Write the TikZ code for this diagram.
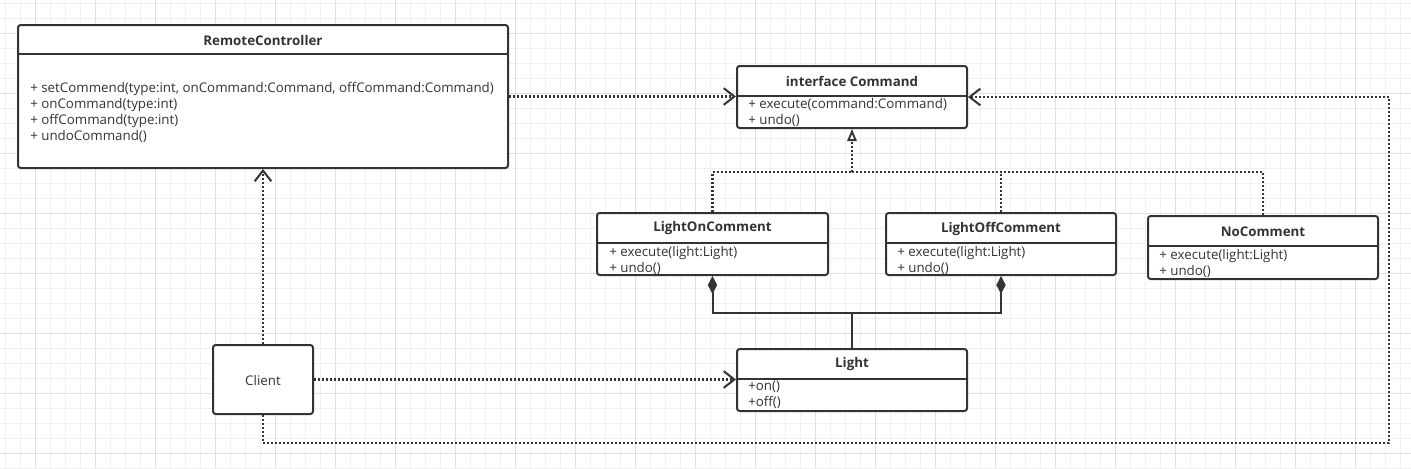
\documentclass[tikz,border=0pt]{standalone}
\usepackage{fontspec}
\setmainfont{Open Sans}
\usetikzlibrary{arrows.meta}
\definecolor{ink}{HTML}{333333}
\definecolor{gminor}{HTML}{F0F0F0}
\definecolor{gmajor}{HTML}{E0E0E0}
\begin{document}
\begin{tikzpicture}[x=0.75pt,y=-0.75pt,
  box/.style={draw=ink, line width=1.5pt, rounded corners=2pt, fill=white, inner sep=0pt},
  ttl/.style={font=\bfseries\fontsize{10pt}{12pt}\selectfont, text=ink, inner sep=0pt},
  mth/.style={font=\fontsize{10pt}{12pt}\selectfont, text=ink, inner sep=0pt, anchor=west, align=left},
  sepline/.style={draw=ink, line width=1.5pt},
  dotline/.style={draw=ink, line width=1.6pt, dash pattern=on 1.5pt off 1.5pt},
  dep/.style={dotline, -{Straight Barb[length=8pt,width=12.5pt,line width=1.5pt]}},
  real/.style={dotline},
  realtip/.style={dotline, -{Triangle[open, fill=white, length=9pt, width=7pt, line width=1.4pt]}},
  comp/.style={draw=ink, line width=1.5pt},
  comptip/.style={comp, -{Diamond[length=13.5pt, width=7pt]}}
]
\useasboundingbox (0,0) rectangle (1411,468);
\fill[white] (0,0) rectangle (1411,468);
\foreach \x in {5,20,...,1410} \draw[gminor, line width=0.75pt] (\x,0) -- (\x,468);
\foreach \y in {3,18,...,468} \draw[gminor, line width=0.75pt] (0,\y) -- (1411,\y);
\foreach \x in {35,95,...,1410} \draw[gmajor, line width=0.75pt] (\x,0) -- (\x,468);
\foreach \y in {33,93,...,468} \draw[gmajor, line width=0.75pt] (0,\y) -- (1411,\y);

% boxes
\node[box, minimum width=367.5pt, minimum height=107.25pt] (rc) at (263,96.5) {};
\node[box, minimum width=172.5pt, minimum height=46.5pt] (cmd) at (852,97) {};
\node[box, minimum width=173.25pt, minimum height=46.5pt] (lon) at (712.5,244) {};
\node[box, minimum width=172.5pt, minimum height=46.5pt] (loff) at (1001,244) {};
\node[box, minimum width=172.5pt, minimum height=47.25pt] (noc) at (1263,247.5) {};
\node[box, minimum width=172.5pt, minimum height=46.5pt] (li) at (852,380) {};
\node[box, minimum width=75pt, minimum height=51.75pt] (cl) at (263,379.5) {};

% header separators
\draw[sepline] (rc.west |- 0,54) -- (rc.east |- 0,54);
\draw[sepline] (cmd.west |- 0,96) -- (cmd.east |- 0,96);
\draw[sepline] (lon.west |- 0,243) -- (lon.east |- 0,243);
\draw[sepline] (loff.west |- 0,243) -- (loff.east |- 0,243);
\draw[sepline] (noc.west |- 0,246) -- (noc.east |- 0,246);
\draw[sepline] (li.west |- 0,379) -- (li.east |- 0,379);

% titles
\node[ttl] (rct) at (263,40) {RemoteController};
\node[ttl] (cmdt) at (852,81) {interface Command};
\node[ttl] (lont) at (712.5,228.5) {LightOnComment};
\node[ttl] (lofft) at (1001,228.5) {LightOffComment};
\node[ttl] (noct) at (1263,231.5) {NoComment};
\node[ttl] (lit) at (852,364) {Light};
\node[mth, anchor=center] (clt) at (263,380) {Client};

% methods
\node[mth] (rcm) at (30,112) {+ setCommend(type:int, onCommand:Command, offCommand:Command)\\+ onCommand(type:int)\\+ offCommand(type:int)\\+ undoCommand()};
\node[mth] (cmdm) at (748,112) {+ execute(command:Command)\\+ undo()};
\node[mth] (lonm) at (609,260) {+ execute(light:Light)\\+ undo()};
\node[mth] (loffm) at (897,260) {+ execute(light:Light)\\+ undo()};
\node[mth] (nocm) at (1159,263) {+ execute(light:Light)\\+ undo()};
\node[mth] (lim) at (748,395) {+on()\\+off()};

% dependencies
\draw[dep] (rc.east) -- (rc.east -| cmd.west);
\draw[dep] (cl.north) -- (rc.south);
\draw[dep] (cl.east) -- (cl.east -| li.west);
\coordinate (lb) at (1389,443);
\coordinate (lt) at (1389,97);
\draw[dep] (cl.south) |- (lb) -- (lt) -- (cmd.east);

% realizations
\coordinate (jr) at (852,172);
\draw[real] (lon.north) |- (jr);
\draw[real] (noc.north) |- (jr);
\draw[real] (loff.north) -- (loff.north |- jr);
\draw[realtip] (jr) -- (cmd.south);

% compositions
\coordinate (jc) at (852,313);
\draw[comptip] (li.north) -- (jc) -| (lon.south);
\draw[comptip] (jc) -| (loff.south);
\end{tikzpicture}
\end{document}
